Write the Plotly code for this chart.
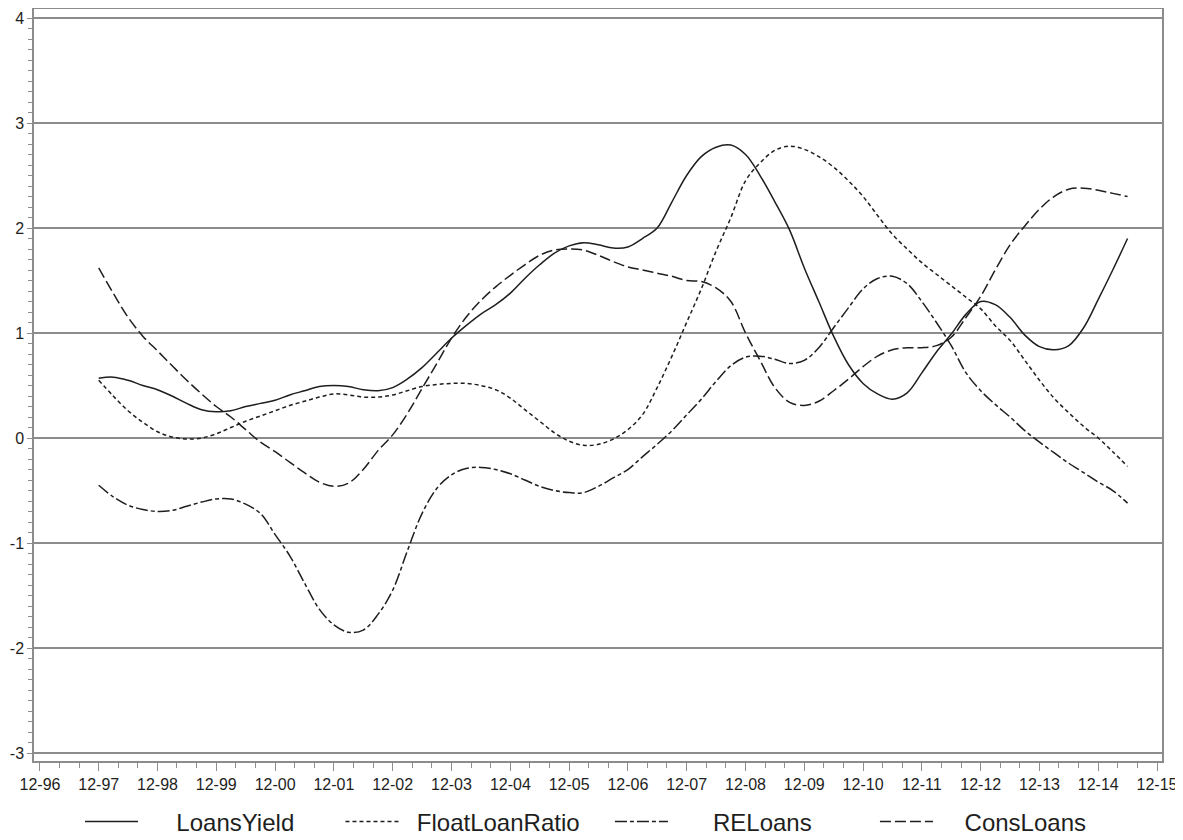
import plotly.graph_objects as go
import pandas as pd

dates = pd.date_range("1997-12-01", "2015-06-01", freq="3MS").strftime("%Y-%m-%d").tolist()

y_tick_values = [-3, -2, -1, 0, 1, 2, 3, 4]
y_tick_labels = ["-3", "-2", "-1", "0", "1", "2", "3", "4"]

loans_yield = [0.57, 0.58, 0.55, 0.50, 0.46, 0.40, 0.33, 0.27, 0.25, 0.26, 0.30, 0.33,
               0.36, 0.41, 0.45, 0.49, 0.50, 0.49, 0.46, 0.45, 0.48, 0.56, 0.67, 0.81,
               0.95, 1.07, 1.18, 1.27, 1.38, 1.52, 1.65, 1.76, 1.83, 1.86, 1.84, 1.81,
               1.82, 1.90, 2.00, 2.25, 2.50, 2.68, 2.77, 2.79, 2.70, 2.50, 2.25, 1.98,
               1.62, 1.30, 0.97, 0.70, 0.52, 0.42, 0.37, 0.43, 0.62, 0.82, 0.99, 1.18,
               1.30, 1.27, 1.15, 0.98, 0.87, 0.84, 0.88, 1.05, 1.32, 1.60, 1.90]

float_loan_ratio = [0.55, 0.40, 0.26, 0.15, 0.06, 0.01, -0.01, 0.00, 0.04, 0.10, 0.16, 0.21,
                    0.26, 0.31, 0.35, 0.39, 0.42, 0.41, 0.39, 0.39, 0.41, 0.45, 0.49, 0.51,
                    0.52, 0.52, 0.50, 0.46, 0.38, 0.27, 0.16, 0.05, -0.03, -0.07, -0.06, -0.01,
                    0.08, 0.22, 0.48, 0.78, 1.10, 1.42, 1.78, 2.10, 2.45, 2.62, 2.74, 2.78,
                    2.75, 2.68, 2.58, 2.45, 2.30, 2.12, 1.94, 1.80, 1.67, 1.56, 1.45, 1.34,
                    1.23, 1.07, 0.93, 0.74, 0.55, 0.38, 0.24, 0.11, 0.00, -0.13, -0.27]

re_loans = [-0.45, -0.56, -0.64, -0.68, -0.70, -0.69, -0.65, -0.61, -0.58, -0.58, -0.63, -0.72,
            -0.92, -1.12, -1.38, -1.63, -1.78, -1.85, -1.83, -1.68, -1.45, -1.08, -0.72, -0.48,
            -0.35, -0.29, -0.28, -0.30, -0.34, -0.40, -0.46, -0.50, -0.52, -0.52, -0.46, -0.38,
            -0.30, -0.18, -0.06, 0.07, 0.22, 0.37, 0.54, 0.69, 0.77, 0.78, 0.75, 0.71,
            0.74, 0.86, 1.05, 1.24, 1.42, 1.52, 1.54, 1.47, 1.30, 1.10, 0.88, 0.62,
            0.45, 0.32, 0.20, 0.07, -0.04, -0.14, -0.24, -0.33, -0.42, -0.50, -0.62]

cons_loans = [1.62, 1.38, 1.15, 0.97, 0.83, 0.69, 0.55, 0.42, 0.30, 0.20, 0.08, -0.04,
              -0.13, -0.23, -0.33, -0.42, -0.46, -0.43, -0.30, -0.12, 0.03, 0.23, 0.47, 0.71,
              0.95, 1.15, 1.31, 1.44, 1.55, 1.65, 1.74, 1.79, 1.80, 1.79, 1.74, 1.68,
              1.63, 1.60, 1.57, 1.54, 1.50, 1.49, 1.43, 1.30, 1.00, 0.74, 0.48, 0.34,
              0.31, 0.35, 0.45, 0.56, 0.68, 0.78, 0.84, 0.86, 0.86, 0.88, 0.96, 1.15,
              1.35, 1.60, 1.84, 2.02, 2.18, 2.30, 2.37, 2.38, 2.36, 2.33, 2.30]

# name, values, dash, legend id, legend x (paper), gap spaces before label
series = [
    ("LoansYield", loans_yield, "solid", "legend", 0.0408, 5),
    ("FloatLoanRatio", float_loan_ratio, "4px,3px", "legend2", 0.2717, 2),
    ("RELoans", re_loans, "12px,3px,4px,3px", "legend3", 0.5106, 6),
    ("ConsLoans", cons_loans, "11px,4px", "legend4", 0.7455, 4),
]

fig = go.Figure()
axis_col = "#8c8c8c"
legend_layouts = {}
for name, vals, dash, leg, lx, gap in series:
    fig.add_trace(go.Scatter(
        x=dates, y=vals, name="\u00a0" * gap + name, mode="lines", legend=leg,
        line=dict(color="#1e1e1e", width=1.5, dash=dash, shape="spline", smoothing=1.0),
    ))
    legend_layouts[leg] = dict(
        orientation="h", x=lx, xanchor="left", y=-0.081, yanchor="middle",
        font=dict(size=24, family="Liberation Sans, Arial, sans-serif", color="#1e1e1e"),
        itemwidth=53, bgcolor="rgba(0,0,0,0)", borderwidth=0,
    )

fig.update_layout(
    template="none",
    width=1175, height=832,
    margin=dict(l=26, r=21, t=1, b=79, autoexpand=False),
    paper_bgcolor="white", plot_bgcolor="white",
    font=dict(family="Liberation Sans, Arial, sans-serif", color="#1e1e1e", size=15),
    showlegend=True,
    **legend_layouts,
    xaxis=dict(
        type="date", automargin=False,
        range=["1996-10-25", "2016-01-01"],
        tick0="1996-12-01", dtick="M12", tickformat="%m-%y",
        ticks="outside", ticklen=8, tickwidth=1, tickcolor=axis_col,
        showgrid=False, zeroline=False,
        showline=True, linecolor=axis_col, linewidth=1.5, mirror=True,
        minor=dict(dtick="M4", tick0="1996-12-01", ticks="outside", ticklen=5,
                   tickcolor=axis_col, showgrid=False),
        tickfont=dict(size=16),
    ),
    yaxis=dict(
        automargin=False,
        range=[-3.076, 4.086],
        tickmode="array", tickvals=y_tick_values, ticktext=y_tick_labels,
        ticks="outside", ticklen=5, tickwidth=1, tickcolor=axis_col,
        showgrid=True, gridcolor="#8c8c8c", gridwidth=1.5,
        zeroline=False,
        showline=True, linecolor=axis_col, linewidth=1.5, mirror=True,
        minor=dict(tick0=0, dtick=0.1, ticks="outside", ticklen=4, tickcolor=axis_col, showgrid=False),
        tickfont=dict(size=16),
    ),
)

fig.write_html("out.html")
